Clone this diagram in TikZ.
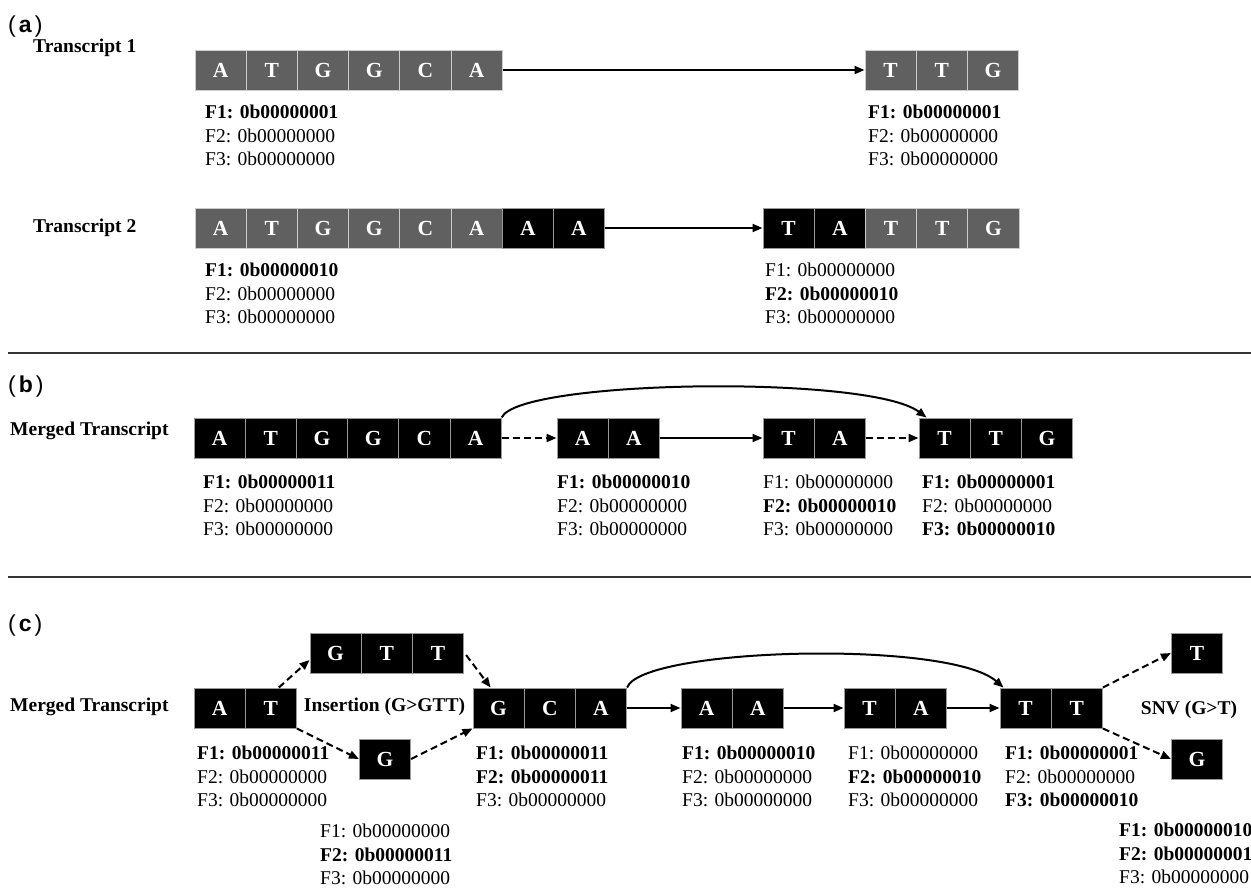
\documentclass[tikz,border=0pt]{standalone}
\usepackage{fontspec}
\setmainfont{Liberation Serif}
\newfontfamily\panelfont{Liberation Sans}
\usetikzlibrary{arrows.meta,calc}
\definecolor{boxgray}{RGB}{96,96,96}
\newcommand\flg[9]{%
  \node[#4] (#1-1) at (#2,#3) {F1: 0b#5};
  \node[#6] (#1-2) at (#2,#3+23.5) {F2: 0b#7};
  \node[#8] (#1-3) at (#2,#3+47) {F3: 0b#9};}
\begin{document}
\begin{tikzpicture}[x=1pt,y=-1pt,
  base/.style={minimum width=51.2pt, minimum height=40pt, inner sep=0pt, line width=1pt, text=white, font=\bfseries\fontsize{21.5}{21.5}\selectfont},
  gbox/.style={base, fill=boxgray, draw=white!80!black},
  bbox/.style={base, fill=black, draw=white!60!black},
  lab/.style={anchor=west, inner sep=0pt, font=\fontsize{19.5}{19.5}\selectfont},
  blab/.style={lab, font=\bfseries\fontsize{19.5}{19.5}\selectfont},
  ttl/.style={anchor=west, inner sep=0pt, font=\bfseries\fontsize{19.5}{19.5}\selectfont},
  panel/.style={anchor=west, inner sep=0pt, font=\panelfont\fontsize{23}{23}\selectfont},
  conn/.style={line width=2pt, -{Triangle[length=10pt,width=8pt]}},
  dconn/.style={conn, dash pattern=on 7pt off 4pt},
  sep/.style={line width=2.5pt, draw=black!80}
]
\useasboundingbox (0,0) rectangle (1251,887);
\clip (0,0) rectangle (1251,887);
\fill[white] (0,0) rectangle (1251,887);

% ---------------- panel (a)
\node[panel] (pa) at (8,27) {(\kern3pt\textbf{a}\kern3pt)};
\node[ttl] (t1) at (33,48) {Transcript 1};
\node[ttl] (t2) at (33,228) {Transcript 2};

\foreach \l [count=\i] in {A,T,G,G,C,A}
  \node[gbox] (r1a\i) at ({195+25.6+51.2*(\i-1)},70) {\l};
\foreach \l [count=\i] in {T,T,G}
  \node[gbox] (r1b\i) at ({865+25.6+51.2*(\i-1)},70) {\l};
\draw[conn] (r1a6.east) -- (r1b1.west);

\foreach \l [count=\i] in {A,T,G,G,C,A}
  \node[gbox] (r2a\i) at ({195+25.6+51.2*(\i-1)},228) {\l};
\foreach \l [count=\i] in {A,A}
  \node[bbox] (r2c\i) at ({195+25.6+51.2*(\i+5)},228) {\l};
\foreach \l [count=\i] in {T,A}
  \node[bbox] (r2b\i) at ({763+25.6+51.2*(\i-1)},228) {\l};
\foreach \l [count=\i] in {T,T,G}
  \node[gbox] (r2d\i) at ({763+25.6+51.2*(\i+1)},228) {\l};
\draw[conn] (r2c2.east) -- (r2b1.west);

\flg{fa1}{205}{112}{blab}{00000001}{lab}{00000000}{lab}{00000000}
\flg{fa2}{868}{112}{blab}{00000001}{lab}{00000000}{lab}{00000000}
\flg{fa3}{205}{270}{blab}{00000010}{lab}{00000000}{lab}{00000000}
\flg{fa4}{765}{270}{lab}{00000000}{blab}{00000010}{lab}{00000000}

\draw[sep] (8,353) -- (1251,353);

% ---------------- panel (b)
\node[panel] (pb) at (8,387) {(\kern3pt\textbf{b}\kern3pt)};
\node[ttl] (tb) at (10,431) {Merged Transcript};
\foreach \l [count=\i] in {A,T,G,G,C,A}
  \node[bbox] (ba\i) at ({194+25.6+51.2*(\i-1)},438) {\l};
\foreach \l [count=\i] in {A,A}
  \node[bbox] (bb\i) at ({557+25.6+51.2*(\i-1)},438) {\l};
\foreach \l [count=\i] in {T,A}
  \node[bbox] (bc\i) at ({763+25.6+51.2*(\i-1)},438) {\l};
\foreach \l [count=\i] in {T,T,G}
  \node[bbox] (bd\i) at ({919+25.6+51.2*(\i-1)},438) {\l};
\draw[dconn] (ba6.east) -- (bb1.west);
\draw[conn] (bb2.east) -- (bc1.west);
\draw[dconn] (bc2.east) -- (bd1.west);
\coordinate (btip) at ($(bd1.north west)+(8,0)$);
\draw[conn] (ba6.north east) .. controls +(17,-38) and +(-57,-43) .. (btip);

\flg{fb1}{203}{482}{blab}{00000011}{lab}{00000000}{lab}{00000000}
\flg{fb2}{557}{482}{blab}{00000010}{lab}{00000000}{lab}{00000000}
\flg{fb3}{763}{482}{lab}{00000000}{blab}{00000010}{lab}{00000000}
\flg{fb4}{922}{482}{blab}{00000001}{lab}{00000000}{blab}{00000010}

\draw[sep] (8,577) -- (1251,577);

% ---------------- panel (c)
\node[panel] (pc) at (8,626) {(\kern3pt\textbf{c}\kern3pt)};
\node[ttl] (tc) at (10,707) {Merged Transcript};
\foreach \l [count=\i] in {A,T}
  \node[bbox] (ca\i) at ({194+25.6+51.2*(\i-1)},708) {\l};
\foreach \l [count=\i] in {G,T,T}
  \node[bbox] (cg\i) at ({310+25.6+51.2*(\i-1)},653) {\l};
\node[bbox] (cl) at (385,759) {G};
\node[ttl, anchor=center] (ins) at (384.5,707) {Insertion (G>GTT)};
\foreach \l [count=\i] in {G,C,A}
  \node[bbox] (cb\i) at ({473+25.6+51.2*(\i-1)},708) {\l};
\foreach \l [count=\i] in {A,A}
  \node[bbox] (cc\i) at ({681+25.6+51.2*(\i-1)},708) {\l};
\foreach \l [count=\i] in {T,A}
  \node[bbox] (cd\i) at ({844+25.6+51.2*(\i-1)},708) {\l};
\foreach \l [count=\i] in {T,T}
  \node[bbox] (ce\i) at ({1000+25.6+51.2*(\i-1)},708) {\l};
\node[bbox] (cu) at (1197,653) {T};
\node[bbox] (cv) at (1197,759) {G};
\node[ttl, anchor=center] (snv) at (1189,710) {SNV (G>T)};

\draw[dconn] ($(ca2.north)+(8,0)$) -- ($(cg1.west)+(0,7)$);
\draw[dconn] ($(cg3.east)+(2,2)$) -- ($(cb1.north)+(-8,0)$);
\draw[dconn] (ca2.south east) -- (cl.west);
\draw[dconn] (cl.east) -- (cb1.south west);
\draw[conn] (cb3.east) -- (cc1.west);
\draw[conn] (cc2.east) -- (cd1.west);
\draw[conn] (cd2.east) -- (ce1.west);
\coordinate (ctip) at ($(ce1.north west)+(4,0)$);
\draw[conn] (cb3.north east) .. controls +(15,-40) and +(-55,-48) .. (ctip);
\draw[dconn] (ce2.north east) -- (cu.west);
\draw[dconn] (ce2.south east) -- (cv.west);

\flg{fc1}{197}{753}{blab}{00000011}{lab}{00000000}{lab}{00000000}
\flg{fc2}{320}{831}{lab}{00000000}{blab}{00000011}{lab}{00000000}
\flg{fc3}{476}{753}{blab}{00000011}{blab}{00000011}{lab}{00000000}
\flg{fc4}{682}{753}{blab}{00000010}{lab}{00000000}{lab}{00000000}
\flg{fc5}{848}{753}{lab}{00000000}{blab}{00000010}{lab}{00000000}
\flg{fc6}{1005}{753}{blab}{00000001}{lab}{00000000}{blab}{00000010}
\flg{fc7}{1119}{830}{blab}{00000010}{blab}{00000001}{lab}{00000000}
\end{tikzpicture}
\end{document}
